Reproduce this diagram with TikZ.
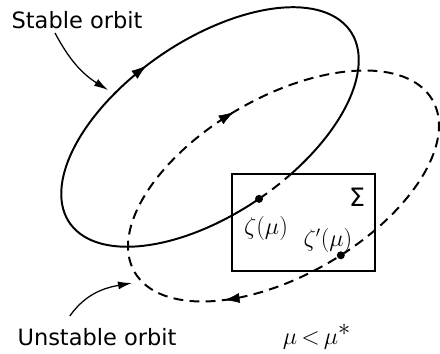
\documentclass[tikz,border=0pt]{standalone}
\usepackage{fontspec}
\setmainfont{DejaVu Sans}
\usetikzlibrary{arrows.meta}

\begin{document}
\begin{tikzpicture}[
        orbit/.style={line width=1.4pt},
        unstable/.style={line width=1.4pt, dash pattern=on 7pt off 4.5pt},
        pointer/.style={line width=0.9pt, -{Latex[length=3.5mm, width=2mm]}},
        tip/.style={-{Latex[length=3.8mm, width=2.5mm]}},
        caption/.style={font=\fontsize{16}{19}\selectfont, inner sep=0pt},
        dot/.style={fill, circle, inner sep=0pt, minimum size=2mm}
    ]
        \useasboundingbox (0,0) rectangle (11,8.825);

        % stable orbit
        \begin{scope}[shift={(5.25,5.65)}, rotate=34.3]
            \draw[orbit] (-77:4.25 and 2.175) arc[start angle=-77, end angle=270, x radius=4.25, y radius=2.175];
            \draw[unstable] (-90:4.25 and 2.175) arc[start angle=-90, end angle=-77, x radius=4.25, y radius=2.175];
            \coordinate (zeta) at (-90:4.25 and 2.175);
            \draw[tip] (97:4.25 and 2.175) -- (96:4.25 and 2.175);
        \end{scope}

        % unstable orbit
        \begin{scope}[shift={(7.0875,4.175)}, rotate=30]
            \draw[unstable] (0,0) ellipse[x radius=4.3, y radius=2.225];
            \coordinate (zetaprime) at (-85:4.3 and 2.225);
            \draw[tip] (93:4.3 and 2.225) -- (92:4.3 and 2.225);
            \draw[tip] (232:4.3 and 2.225) -- (231:4.3 and 2.225);
        \end{scope}

        % section
        \node[draw, line width=1.1pt, minimum width=3.575cm, minimum height=2.425cm, anchor=south west] (section) at (5.775,2.025) {};
        \node[caption, font=\fontsize{18}{21}\selectfont] (sigma) at (8.925,3.9) {Σ};
        \node[dot] (zetadot) at (zeta) {};
        \node[dot] (zetaprimedot) at (zetaprime) {};
        \node[caption] (zetalabel) at (6.65,3.125) {$\zeta(\mu)$};
        \node[caption] (zetaprimelabel) at (8.2,2.825) {$\zeta'(\mu)$};

        % labels
        \node[caption] (stable) at (1.925,8.325) {Stable orbit};
        \node[caption] (unstablelabel) at (2.425,0.4) {Unstable orbit};
        \node[caption, font=\fontsize{17}{20}\selectfont] (condition) at (7.925,0.4) {$\mu\,{<}\,\mu^{\textstyle\ast}$};
        \coordinate (stabletip) at (2.7,6.575);
        \coordinate (unstabletip) at (3.3,1.75);

        \draw[pointer] ([xshift=-0.55cm, yshift=-0.1cm]stable.south) to[out=-62, in=148] (stabletip);
        \draw[pointer] ([xshift=-0.68cm, yshift=0.3cm]unstablelabel.north) to[out=55, in=190] (unstabletip);
    \end{tikzpicture}
\end{document}
